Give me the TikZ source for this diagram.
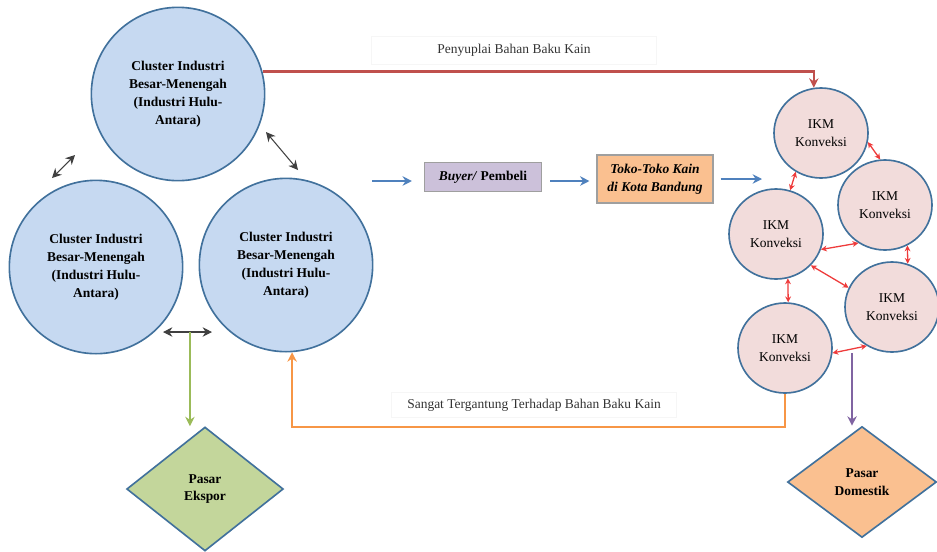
\documentclass[tikz,border=0pt]{standalone}
\usepackage{fontspec}
\setmainfont{Liberation Serif}
\usetikzlibrary{calc,positioning,arrows.meta,shapes.geometric}
\definecolor{clusterblue}{HTML}{C6D9F1}
\definecolor{edgeblue}{HTML}{41719C}
\definecolor{ikmpink}{HTML}{F2DCDB}
\definecolor{buyerlilac}{HTML}{CCC1DA}
\definecolor{tokoorange}{HTML}{FAC090}
\definecolor{eksporgreen}{HTML}{C3D69B}
\definecolor{supplyred}{HTML}{C0504D}
\definecolor{flowblue}{HTML}{4F81BD}
\definecolor{exportgreen}{HTML}{9BBB59}
\definecolor{returnorange}{HTML}{F79646}
\definecolor{marketpurple}{HTML}{8064A2}
\definecolor{linkred}{HTML}{EE3B3B}
\newcommand{\figfont}{\fontsize{11.5pt}{15.3pt}\selectfont}
\tikzset{
    >={Stealth[length=8pt,width=8pt]},
    cluster/.style={
        circle,
        draw=edgeblue,
        line width=1.4pt,
        fill=clusterblue,
        minimum size=5.2cm,
        align=center,
        font=\figfont\bfseries
    },
    ikm/.style={
        ellipse,
        draw=edgeblue,
        line width=1.4pt,
        fill=ikmpink,
        minimum width=2.82cm,
        minimum height=2.7cm,
        inner sep=0pt,
        align=center
    },
    tradebox/.style={
        rectangle,
        draw=gray!75,
        line width=0.9pt,
        align=center,
        font=\figfont\bfseries\itshape
    },
    market/.style={
        diamond,
        draw=edgeblue,
        line width=1.4pt,
        inner sep=0pt,
        align=center,
        font=\figfont\bfseries
    },
    flowlabel/.style={rectangle, draw=gray!7, line width=0.4pt, minimum width=8.55cm, text=black!80},
    link/.style={<->, line width=0.9pt, black!75},
    ikmlink/.style={{Stealth[length=5pt,width=5pt]}-{Stealth[length=5pt,width=5pt]}, line width=1.1pt, linkred},
    flow/.style={->, line width=2.2pt},
    font=\figfont,
}

\begin{document}
\begin{tikzpicture}[x=0.03cm,y=-0.03cm]
\useasboundingbox (0,0) rectangle (937,551);

% Clusters
\node[cluster] (hulu_top) at (178,94) {Cluster Industri\\Besar-Menengah\\(Industri Hulu-\\Antara)};
\node[cluster] (hulu_left) at (96,267) {Cluster Industri\\Besar-Menengah\\(Industri Hulu-\\Antara)};
\node[cluster] (hulu_right) at (286,265) {Cluster Industri\\Besar-Menengah\\(Industri Hulu-\\Antara)};

% Trade chain
\node[tradebox, fill=buyerlilac, minimum width=3.51cm, minimum height=0.87cm, font=\figfont\bfseries] (buyer) at (483,177) {\textit{Buyer/} Pembeli};
\node[tradebox, fill=tokoorange, minimum width=3.48cm, minimum height=1.44cm] (toko) at (655,179) {Toko-Toko Kain\\di Kota Bandung};

% IKM
\node[ikm] (ikm_top) at (821,133) {IKM\\Konveksi};
\node[ikm] (ikm_ru) at (885,205) {IKM\\Konveksi};
\node[ikm] (ikm_mid) at (776,234) {IKM\\Konveksi};
\node[ikm] (ikm_rl) at (892,307) {IKM\\Konveksi};
\node[ikm] (ikm_bot) at (785,348) {IKM\\Konveksi};

% Markets
\node[market, fill=eksporgreen, minimum width=4.7cm, minimum height=3.72cm] (ekspor) at (205,489) {Pasar\\Ekspor};
\node[market, fill=tokoorange, minimum width=4.47cm, minimum height=3.33cm] (domestik) at (862,482) {Pasar\\Domestik};

% Labels
\node[flowlabel, minimum height=0.84cm] (supply_lbl) at (514,50) {Penyuplai Bahan Baku Kain};
\node[flowlabel, minimum height=0.75cm] (depend_lbl) at (534,405) {Sangat Tergantung Terhadap Bahan Baku Kain};

% Links between clusters
\coordinate (tl_a) at (52,178);
\coordinate (tl_b) at (75,155);
\coordinate (tr_a) at (266,132);
\coordinate (tr_b) at (298,170);
\coordinate (bot_a) at (163,332);
\coordinate (bot_b) at (212,332);
\draw[link] (tl_a) -- (tl_b);
\draw[link] (tr_a) -- (tr_b);
\draw[link] (bot_a) -- (bot_b);

% Supply and trade flows
\draw[flow, supplyred] (hulu_top.15) -| (ikm_top.99);
\coordinate (buy_in) at (372,181);
\coordinate (toko_out) at (762,179);
\draw[flow, flowblue, shorten >=0.36cm] (buy_in) -- (buy_in -| buyer.west);
\draw[flow, flowblue, shorten <=0.24cm, shorten >=0.21cm] (buy_in -| buyer.east) -- (buy_in -| toko.west);
\draw[flow, flowblue, shorten <=0.21cm] (toko_out -| toko.east) -- (toko_out);

% IKM links
\draw[ikmlink] (ikm_top.237) -- (ikm_mid.72);
\draw[ikmlink] (ikm_top.-11) -- (ikm_ru.96);
\draw[ikmlink] (ikm_mid.-19) -- (ikm_ru.235);
\draw[ikmlink] (ikm_ru.-61) -- (ikm_rl.70);
\draw[ikmlink] (ikm_mid.-42) -- (ikm_rl.156);
\draw[ikmlink] (ikm_mid.-75) -- (ikm_bot.86);
\draw[ikmlink] (ikm_bot.-6) -- (ikm_rl.237);

% Markets and return flow
\coordinate (ekspor_src) at ($(bot_a)!0.55!(bot_b)$);
\coordinate (domestik_src) at (852,353);
\coordinate (return_lane) at (540,427);
\draw[flow, exportgreen] (ekspor_src) -- (ekspor_src |- ekspor.north);
\draw[flow, marketpurple] (domestik_src) -- (domestik_src |- domestik.north);
\draw[flow, returnorange] (ikm_bot.south) |- (return_lane) -| (hulu_right.-86);
\end{tikzpicture}
\end{document}
